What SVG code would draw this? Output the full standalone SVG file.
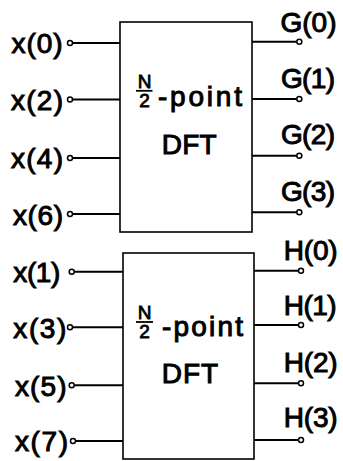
<svg xmlns="http://www.w3.org/2000/svg" width="343" height="461" viewBox="0 0 343 461">
  <style>
    .box { fill: #fff; stroke: #000; stroke-width: 1.6; }
    .wire { stroke: #000; stroke-width: 2; fill: none; }
    .term { fill: #fff; stroke: #000; stroke-width: 1.5; }
    .lbl { font-family: "Liberation Sans", Arial, sans-serif; font-size: 28px; fill: #000; stroke: #000; stroke-width: 1; }
    .frac { font-family: "Liberation Sans", Arial, sans-serif; font-size: 19px; fill: #000; stroke: #000; stroke-width: 0.8; text-anchor: middle; }
    .bar { stroke: #000; stroke-width: 1.8; }
  </style>
  <rect width="343" height="461" fill="#fff"/>

  <!-- connectors: input wires into the boxes, output wires out of them -->
  <g id="connectors">
    <line class="wire" x1="72.5" y1="43" x2="120" y2="43"/>
    <line class="wire" x1="72.5" y1="99.5" x2="120" y2="99.5"/>
    <line class="wire" x1="72.5" y1="158" x2="120" y2="158"/>
    <line class="wire" x1="72.5" y1="214" x2="120" y2="214"/>
    <line class="wire" x1="252" y1="41.7" x2="296.8" y2="41.7"/>
    <line class="wire" x1="252" y1="99" x2="296.8" y2="99"/>
    <line class="wire" x1="252" y1="155.7" x2="296.8" y2="155.7"/>
    <line class="wire" x1="252" y1="212.3" x2="296.8" y2="212.3"/>

    <line class="wire" x1="74.2" y1="271.7" x2="123" y2="271.7"/>
    <line class="wire" x1="72.5" y1="327.3" x2="123" y2="327.3"/>
    <line class="wire" x1="74.2" y1="385.3" x2="123" y2="385.3"/>
    <line class="wire" x1="75.5" y1="441" x2="123" y2="441"/>
    <line class="wire" x1="254" y1="270.7" x2="298.5" y2="270.7"/>
    <line class="wire" x1="254" y1="325" x2="298.5" y2="325"/>
    <line class="wire" x1="254" y1="383.3" x2="298.5" y2="383.3"/>
    <line class="wire" x1="254" y1="440" x2="298.5" y2="440"/>
  </g>

  <!-- even-indexed half: N/2-point DFT -->
  <g id="dft-even">
    <rect class="box" x="120" y="22" width="132" height="210"/>
    <text class="frac"><tspan x="144.5" y="88">N</tspan><tspan x="144.5" y="107">2</tspan></text>
    <line class="bar" x1="136" y1="90.8" x2="152.5" y2="90.8"/>
    <text class="lbl" x="158" y="105.5" textLength="84" lengthAdjust="spacing">-point</text>
    <text class="lbl" x="161.7" y="153.5" textLength="55" lengthAdjust="spacing">DFT</text>
  </g>

  <!-- odd-indexed half: N/2-point DFT -->
  <g id="dft-odd">
    <rect class="box" x="123" y="253" width="131" height="206"/>
    <text class="frac"><tspan x="144.5" y="319">N</tspan><tspan x="144.5" y="338">2</tspan></text>
    <line class="bar" x1="136" y1="322" x2="153" y2="322"/>
    <text class="lbl" x="162" y="336" textLength="81" lengthAdjust="spacing">-point</text>
    <text class="lbl" x="161.7" y="383" textLength="56.5" lengthAdjust="spacing">DFT</text>
  </g>

  <!-- inputs, even samples -->
  <g id="in-x0"><text class="lbl" x="11.5" y="53" textLength="51" lengthAdjust="spacing">x(0)</text><circle class="term" cx="70" cy="43" r="2.5"/></g>
  <g id="in-x2"><text class="lbl" x="11" y="109.5" textLength="52" lengthAdjust="spacing">x(2)</text><circle class="term" cx="70" cy="99.5" r="2.5"/></g>
  <g id="in-x4"><text class="lbl" x="11" y="168" textLength="52" lengthAdjust="spacing">x(4)</text><circle class="term" cx="70" cy="158" r="2.5"/></g>
  <g id="in-x6"><text class="lbl" x="13" y="224.5" textLength="50" lengthAdjust="spacing">x(6)</text><circle class="term" cx="70" cy="214" r="2.5"/></g>

  <!-- inputs, odd samples -->
  <g id="in-x1"><text class="lbl" x="13.3" y="282" textLength="47" lengthAdjust="spacing">x(1)</text><circle class="term" cx="71.7" cy="271.7" r="2.5"/></g>
  <g id="in-x3"><text class="lbl" x="13.3" y="337.5" textLength="53" lengthAdjust="spacing">x(3)</text><circle class="term" cx="70" cy="327.3" r="2.5"/></g>
  <g id="in-x5"><text class="lbl" x="15" y="395.5" textLength="51.5" lengthAdjust="spacing">x(5)</text><circle class="term" cx="71.7" cy="385.3" r="2.5"/></g>
  <g id="in-x7"><text class="lbl" x="15" y="451" textLength="53" lengthAdjust="spacing">x(7)</text><circle class="term" cx="73" cy="441" r="2.5"/></g>

  <!-- outputs G(k) -->
  <g id="out-g0"><text class="lbl" x="280.5" y="32" textLength="56" lengthAdjust="spacing">G(0)</text><circle class="term" cx="299.3" cy="41.7" r="2.5"/></g>
  <g id="out-g1"><text class="lbl" x="281" y="87.5" textLength="54" lengthAdjust="spacing">G(1)</text><circle class="term" cx="299.3" cy="99" r="2.5"/></g>
  <g id="out-g2"><text class="lbl" x="281" y="144" textLength="54" lengthAdjust="spacing">G(2)</text><circle class="term" cx="299.3" cy="155.7" r="2.5"/></g>
  <g id="out-g3"><text class="lbl" x="281" y="200.5" textLength="54" lengthAdjust="spacing">G(3)</text><circle class="term" cx="299.3" cy="212.3" r="2.5"/></g>

  <!-- outputs H(k) -->
  <g id="out-h0"><text class="lbl" x="283.7" y="260" textLength="54" lengthAdjust="spacing">H(0)</text><circle class="term" cx="301" cy="270.7" r="2.5"/></g>
  <g id="out-h1"><text class="lbl" x="283.7" y="315" textLength="53" lengthAdjust="spacing">H(1)</text><circle class="term" cx="301" cy="325" r="2.5"/></g>
  <g id="out-h2"><text class="lbl" x="283.7" y="371.7" textLength="54" lengthAdjust="spacing">H(2)</text><circle class="term" cx="301" cy="383.3" r="2.5"/></g>
  <g id="out-h3"><text class="lbl" x="283.7" y="427" textLength="54" lengthAdjust="spacing">H(3)</text><circle class="term" cx="301" cy="440" r="2.5"/></g>
</svg>
